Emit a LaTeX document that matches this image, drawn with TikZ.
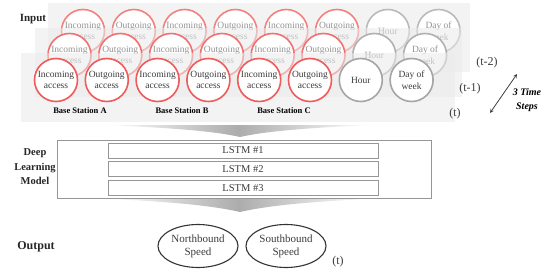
\documentclass[tikz,border=0pt]{standalone}
\usepackage{fontspec}
\setmainfont{Liberation Serif}
\usepackage{tikz}
\usetikzlibrary{shapes,arrows,positioning,calc}
\definecolor{accred}{RGB}{240,90,90}
\definecolor{timegray}{RGB}{165,165,165}
\definecolor{txtgray}{RGB}{60,60,60}
\definecolor{panelgray}{RGB}{234,234,234}
\definecolor{boxgray}{RGB}{150,150,150}

\begin{document}
\begin{tikzpicture}[x=1pt,y=-1pt,
  feat/.style={circle, minimum size=43pt, inner sep=0pt, line width=1.6pt, fill=white,
    align=center, font=\fontsize{9.5}{11.5}\selectfont},
  acc/.style={feat, draw=accred},
  tim/.style={feat, draw=timegray},
  panel/.style={fill=panelgray, fill opacity=0.55},
  lstm/.style={draw=boxgray, line width=0.9pt, minimum width=270pt, minimum height=15pt,
    inner sep=0pt, font=\fontsize{10.5}{12}\selectfont, text=txtgray},
  outp/.style={ellipse, draw=black!80, line width=1.1pt, minimum width=80pt, minimum height=43pt,
    inner sep=0pt, align=center, font=\fontsize{11}{13}\selectfont, text=txtgray},
  head/.style={font=\bfseries\fontsize{11}{14.5}\selectfont, align=center, text=black!85},
  chev/.style={left color=white, right color=white, middle color=gray!65}]
  \useasboundingbox (0,0) rectangle (550,273);

  % input: three time steps, back to front
  \foreach \row/\dx/\y/\pl/\pt/\pr/\op/\tc in {2/27/31/48/3/470/0.75/gray!85, 1/13.5/55/35/28/462/0.85/gray!85, 0/0/80/21/53/455/1/txtgray} {
    \fill[panel] (\pl,\pt) rectangle (\pr,{\pt+69});
    \foreach \st/\lab [count=\i from 0] in {acc/Incoming\\access, acc/Outgoing\\access,
        acc/Incoming\\access, acc/Outgoing\\access, acc/Incoming\\access, acc/Outgoing\\access,
        tim/Hour, tim/Day of\\week}
      \node[\st, draw opacity=\op, text=\tc] (c\row-\i) at ({56+\dx+50.8*\i},\y) {\lab};
  }
  \node[head] (inp) at (33,19) {Input};
  \node[font=\bfseries\fontsize{8.5}{10}\selectfont] (bsA) at (80,111) {Base Station A};
  \node[font=\bfseries\fontsize{8.5}{10}\selectfont] (bsB) at (182,111) {Base Station B};
  \node[font=\bfseries\fontsize{8.5}{10}\selectfont] (bsC) at (284,111) {Base Station C};

  % time steps
  \node[font=\fontsize{12}{14}\selectfont, text=txtgray] (t2) at (487,63) {(t-2)};
  \node[font=\fontsize{12}{14}\selectfont, text=txtgray] (t1) at (470,89) {(t-1)};
  \node[font=\fontsize{12}{14}\selectfont, text=txtgray] (t0) at (455,114) {(t)};
  \coordinate (ts) at (490,113);
  \coordinate (te) at (517,74);
  \draw[<->, >=stealth, line width=0.8pt, black!75] (ts) -- (te);
  \node[font=\bfseries\itshape\fontsize{10}{14}\selectfont, align=center] (steps) at (527,100) {3 Time\\Steps};

  % chevrons
  \shade[chev] (103,125) -- (373,125) .. controls (300,128) and (262,132) .. (240,137)
    .. controls (218,132) and (180,128) .. (103,125) -- cycle;
  \shade[chev] (107,199) -- (370,199) .. controls (298,202) and (262,207) .. (240,212)
    .. controls (218,207) and (182,202) .. (107,199) -- cycle;

  % deep learning model
  \node[head, font=\bfseries\fontsize{10.5}{14.5}\selectfont] (dlm) at (35,167) {Deep\\Learning\\Model};
  \node[draw=boxgray, line width=0.8pt, minimum width=374pt, minimum height=58pt] (model) at (244,169) {};
  \node[lstm] (l1) at (243,150.5) {LSTM \#1};
  \node[lstm, below=3pt of l1] (l2) {LSTM \#2};
  \node[lstm, below=3pt of l2] (l3) {LSTM \#3};

  % output
  \node[head, font=\bfseries\fontsize{12}{14}\selectfont] (outl) at (36,247) {Output};
  \node[outp] (north) at (198,246) {Northbound\\Speed};
  \node[outp] (south) at (286,246) {Southbound\\Speed};
  \node[font=\fontsize{12}{14}\selectfont, text=txtgray] (tout) at (338,262) {(t)};
\end{tikzpicture}
\end{document}
